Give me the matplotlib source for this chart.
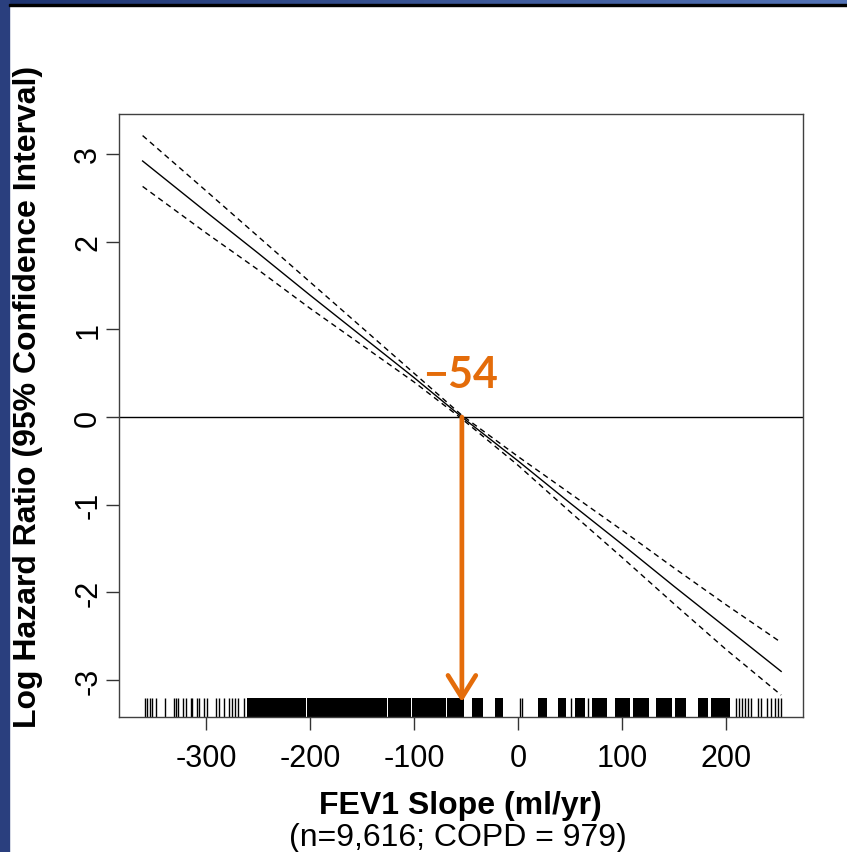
import numpy as np
import matplotlib
matplotlib.use("Agg")
from matplotlib import pyplot as plt
from matplotlib.patches import Rectangle
from matplotlib.colors import LinearSegmentedColormap

#------DATA-----
# Fitted log hazard ratio vs FEV1 slope, with 95% confidence band
slope = [-361, -300, -250, -200, -150, -100, -54, 0, 50, 100, 150, 200, 253]
log_hr = [2.92, 2.34, 1.87, 1.39, 0.92, 0.45, 0.0, -0.50, -0.98, -1.45, -1.93, -2.40, -2.90]
ci_upper = [3.21, 2.58, 2.06, 1.54, 1.02, 0.50, 0.02, -0.45, -0.87, -1.29, -1.72, -2.14, -2.57]
ci_lower = [2.63, 2.10, 1.68, 1.24, 0.82, 0.40, -0.02, -0.55, -1.08, -1.60, -2.13, -2.65, -3.17]

# Rug of observed slopes: isolated ticks and dense runs
rug_ticks = [-358.8, -356.6, -354.0, -351.8, -347.8, -339.8, -331.0, -328.8, -326.5,
             -322.0, -319.4, -314.5, -313.2, -308.7, -306.5, -302.1, -298.9, -290.9,
             -287.4, -283.0, -277.7, -275.5, -271.9, -268.8, -263.1,
             1.9, 4.0, 50.7, 67.5, 209.6, 212.7, 215.8, 218.5, 221.2, 223.8,
             230.4, 233.5, 239.2, 243.7, 247.2, 250.3, 253.0]
rug_runs = [(-260.9, -238.9), (-238.2, -203.8), (-203.2, -125.7), (-125.1, -102.6),
            (-102.0, -84.0), (-83.4, -69.3), (-68.7, -51.5), (-44.7, -33.6),
            (-22.6, -14.5), (19.6, 27.6), (38.7, 46.0), (55.0, 64.0), (70.7, 86.0),
            (93.7, 107.5), (110.6, 126.0), (132.7, 148.0), (151.0, 161.5),
            (172.7, 183.0), (186.0, 203.8)]

threshold = -54
xticks = [-300, -200, -100, 0, 100, 200]
yticks = [-3, -2, -1, 0, 1, 2, 3]

#------PLOT-----
plt.rcParams['font.family'] = ['Liberation Sans', 'DejaVu Sans']
W, H = 847, 853
fig = plt.figure(figsize=(W / 100, H / 100), dpi=100)
fig.patch.set_facecolor('white')

# slide frame: blue strip on the left, gradient band on top
fig.patches.append(Rectangle((0, 0), 9 / W, 1, transform=fig.transFigure,
                             color='#2a3f7e', zorder=0))
band = fig.add_axes([0, 1 - 5 / H, 1, 5 / H])
band.imshow(np.linspace(0, 1, 256)[None, :], aspect='auto',
            cmap=LinearSegmentedColormap.from_list('band', ['#1d3370', '#5575b8']))
band.axis('off')
fig.patches.append(Rectangle((9 / W, 1 - 7 / H), 1, 2 / H, transform=fig.transFigure,
                             color='black', zorder=0))

ax = fig.add_axes([119 / W, (H - 718) / H, (803 - 119) / W, (718 - 115) / H])
ax.plot(slope, log_hr, color='black', lw=1.0)
ax.plot(slope, ci_upper, color='black', lw=1.0, dashes=(4, 3))
ax.plot(slope, ci_lower, color='black', lw=1.0, dashes=(4, 3))
ax.axhline(0, color='black', lw=1.0)

rug_tf = ax.get_xaxis_transform()
ax.vlines(rug_ticks, 0, 0.0315, transform=rug_tf, color='black', lw=1.0)
for x0, x1 in rug_runs:
    ax.axvspan(x0, x1, ymin=0, ymax=0.0315, color='black', lw=0)

ax.set_xlim(-383.7, 274)
ax.set_ylim(-3.42, 3.456)
ax.set_xticks(xticks)
ax.set_yticks(yticks)
ax.set_xticklabels([str(v) for v in xticks], fontsize=22)
ax.set_yticklabels([str(v) for v in yticks], fontsize=22, rotation=90, va='center')
ax.tick_params(axis='both', direction='out', length=9.4, width=1.0, color='#333333')
ax.tick_params(axis='x', pad=9)
ax.tick_params(axis='y', pad=2)
for sp in ax.spines.values():
    sp.set_color('#404040')
    sp.set_linewidth(1.0)

# threshold marker
orange = '#E46C0A'
ax.annotate('', xy=(threshold, -3.25), xytext=(threshold, 0),
            arrowprops=dict(arrowstyle='->,head_length=0.8,head_width=0.5',
                            color=orange, lw=3.4, shrinkA=0, shrinkB=0,
                            mutation_scale=20))
ax.text(-55, 0.49, '\u221254', color=orange, fontsize=31, fontweight='bold',
        family=['Lato', 'DejaVu Sans'], ha='center', va='center')

fig.text(28 / W, 1 - 397 / H, 'Log Hazard Ratio (95% Confidence Interval)',
         rotation=90, ha='center', va='center', fontsize=23, fontweight='bold')
fig.text(460 / W, 1 - 806 / H, 'FEV1 Slope (ml/yr)', ha='center', va='center',
         fontsize=23, fontweight='bold')
fig.text(458 / W, 1 - 838 / H, '(n=9,616; COPD = 979)', ha='center', va='center',
         fontsize=23)

fig.savefig('out.png', dpi=100)
